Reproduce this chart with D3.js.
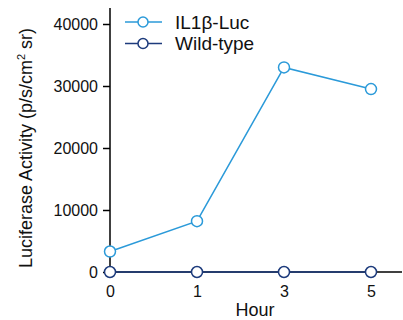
<!DOCTYPE html>
<html><head><meta charset="utf-8">
<script src="https://cdn.jsdelivr.net/npm/d3@7"></script>
<style>body{margin:0;background:#fff}svg{display:block;font-family:"Liberation Sans",Arial,sans-serif}</style>
</head><body><svg width="403" height="320"></svg>
<script>
const hours = ["0","1","3","5"];
const il1bValues = [3300, 8200, 33000, 29500];
const wildTypeValues = [0, 0, 0, 0];
const yTicks = [0, 10000, 20000, 30000, 40000];
const seriesNames = ["IL1β-Luc", "Wild-type"];
const seriesColors = ["#2b9ad9", "#1d3b7c"];
const FONT = "Liberation Sans, Arial, sans-serif";

const svg = d3.select("svg");
const x = d3.scalePoint().domain(hours).range([110, 371]);
const y = d3.scaleLinear().domain([0, 40000]).range([272, 24]);

// axes
const yAxis = svg.append("g").attr("transform","translate(110,0)")
  .call(d3.axisLeft(y).tickValues(yTicks).tickSize(7).tickPadding(5).tickFormat(d3.format("d")));
yAxis.select(".domain").attr("d", `M0,${y(0)}V8`);
const xAxis = svg.append("g").attr("transform",`translate(0,${y(0)})`)
  .call(d3.axisBottom(x).tickSize(5).tickPadding(9));
xAxis.select(".domain").attr("d", "M110,0H402");
svg.selectAll(".tick text").attr("font-size", 16).attr("fill","#111").attr("font-family",FONT);
svg.selectAll(".domain, .tick line").attr("stroke","#000").attr("stroke-width",1.5);

const series = [il1bValues, wildTypeValues];
const line = d3.line().x((d,i)=>x(hours[i])).y(d=>y(d));
series.slice().reverse().forEach((vals, k) => {
  const i = series.length - 1 - k;
  const g = svg.append("g");
  g.append("path").datum(vals).attr("d", line).attr("fill","none")
    .attr("stroke", seriesColors[i]).attr("stroke-width", 1.5);
  g.selectAll("circle").data(vals).join("circle")
    .attr("cx",(d,j)=>x(hours[j])).attr("cy",d=>y(d)).attr("r",5.5)
    .attr("fill","#fff").attr("stroke",seriesColors[i]).attr("stroke-width",1.5);
});

// legend
seriesNames.forEach((name,i)=>{
  const ly = 22 + i*21.5;
  const g = svg.append("g");
  g.append("line").attr("x1",125).attr("x2",162).attr("y1",ly).attr("y2",ly)
    .attr("stroke",seriesColors[i]).attr("stroke-width",1.5);
  g.append("circle").attr("cx",143).attr("cy",ly).attr("r",5)
    .attr("fill","#fff").attr("stroke",seriesColors[i]).attr("stroke-width",1.5);
  g.append("text").attr("x",175).attr("y",ly).attr("dy","0.36em")
    .attr("font-size",19).attr("fill","#111").attr("font-family",FONT).text(name);
});

// axis titles
svg.append("text").attr("x",255).attr("y",316).attr("text-anchor","middle")
  .attr("font-size",18).attr("fill","#111").attr("font-family",FONT).text("Hour");
const yl = svg.append("text").attr("transform","translate(32,148) rotate(-90)")
  .attr("text-anchor","middle").attr("font-size",18).attr("fill","#111").attr("font-family",FONT);
yl.append("tspan").text("Luciferase Activity (p/s/cm");
yl.append("tspan").attr("font-size",11).attr("dy","-7").text("2");
yl.append("tspan").attr("dy","7").text(" sr)");
</script></body></html>
